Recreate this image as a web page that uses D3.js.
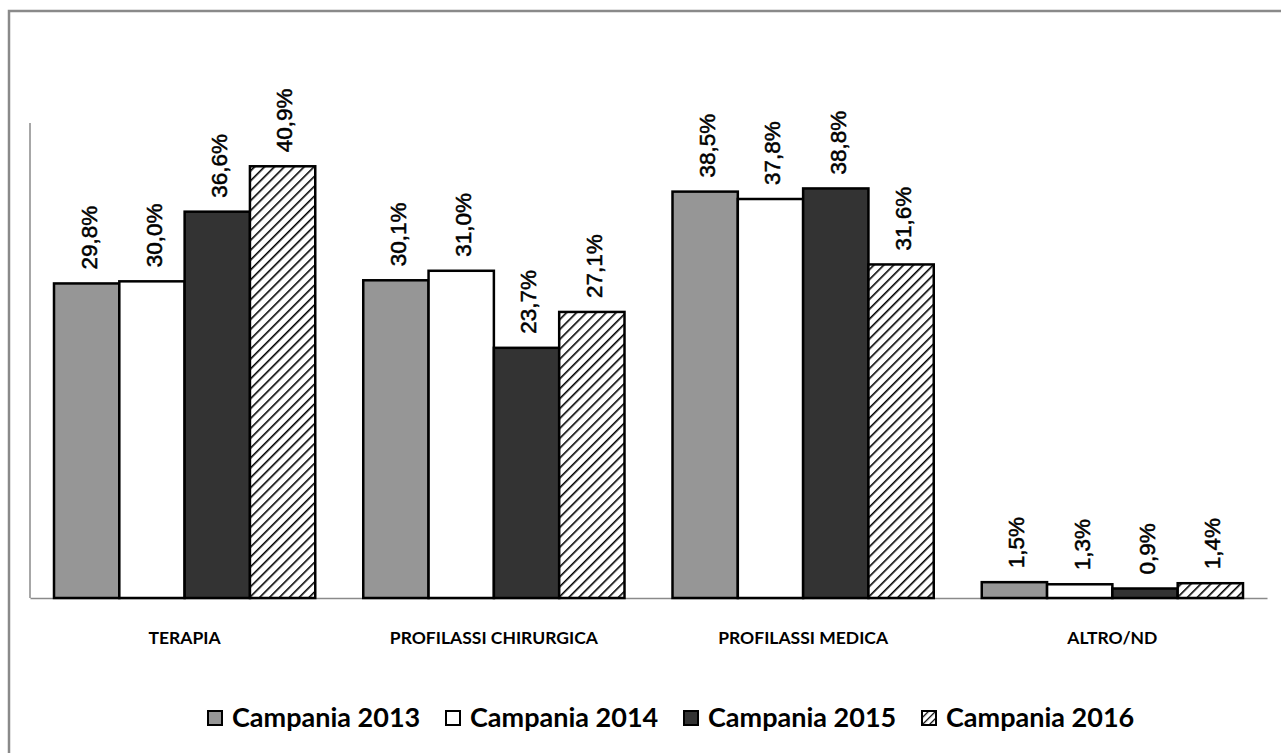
<!DOCTYPE html>
<html>
<head>
<meta charset="utf-8">
<script src="https://cdn.jsdelivr.net/npm/d3@7"></script>
<style>
  body { margin: 0; background: #fff; }
  svg { display: block; }
</style>
</head>
<body>
<script>
var categories = ["TERAPIA", "PROFILASSI CHIRURGICA", "PROFILASSI MEDICA", "ALTRO/ND"];
var series = ["Campania 2013", "Campania 2014", "Campania 2015", "Campania 2016"];
var v2013 = [29.8, 30.1, 38.5, 1.5];
var v2014 = [30.0, 31.0, 37.8, 1.3];
var v2015 = [36.6, 23.7, 38.8, 0.9];
var v2016 = [40.9, 27.1, 31.6, 1.4];
var values = [v2013, v2014, v2015, v2016];

var W = 1281, H = 753;
var margin = { top: 123, left: 30, right: 14, bottom: 155 };
var width = W - margin.left - margin.right,
    height = H - margin.top - margin.bottom;

var fills = ["#969696", "#ffffff", "#333333", "url(#hatch)"];

var svg = d3.select("body").append("svg")
    .attr("width", W)
    .attr("height", H);

// hatch pattern for 2016
var defs = svg.append("defs");
var pat = defs.append("pattern")
    .attr("id", "hatch")
    .attr("patternUnits", "userSpaceOnUse")
    .attr("width", 7)
    .attr("height", 7)
    .attr("patternTransform", "rotate(45)");
pat.append("rect").attr("width", 7).attr("height", 7).attr("fill", "#fff");
pat.append("line")
    .attr("x1", 0).attr("y1", 0).attr("x2", 0).attr("y2", 7)
    .attr("stroke", "#000").attr("stroke-width", 3.2);

var pat2 = defs.append("pattern")
    .attr("id", "hatchSmall")
    .attr("patternUnits", "userSpaceOnUse")
    .attr("width", 5)
    .attr("height", 5)
    .attr("patternTransform", "rotate(45)");
pat2.append("rect").attr("width", 5).attr("height", 5).attr("fill", "#fff");
pat2.append("line")
    .attr("x1", 0).attr("y1", 0).attr("x2", 0).attr("y2", 5)
    .attr("stroke", "#000").attr("stroke-width", 2.5);

// outer frame
svg.append("rect")
    .attr("x", 9).attr("y", 11)
    .attr("width", 1400).attr("height", 900)
    .attr("fill", "none")
    .attr("stroke", "#8a8a8a")
    .attr("stroke-width", 2.5);

var g = svg.append("g")
    .attr("transform", "translate(" + margin.left + "," + margin.top + ")");

var x0 = d3.scaleBand()
    .domain(categories)
    .range([0, width])
    .padding(0);

var x1 = d3.scaleBand()
    .domain(series)
    .range([24, x0.bandwidth() - 24])
    .padding(0);

var y = d3.scaleLinear()
    .domain([0, 45])
    .range([height, 0]);

// y axis line, no ticks
g.append("line")
    .attr("x1", 0).attr("x2", 0)
    .attr("y1", 0).attr("y2", height)
    .attr("stroke", "#8a8a8a").attr("stroke-width", 1.5);

var xAxis = d3.axisBottom(x0).tickSize(0).tickPadding(34);
var ax = g.append("g")
    .attr("transform", "translate(0," + height + ")")
    .call(xAxis);
ax.select(".domain").attr("stroke", "#8a8a8a").attr("stroke-width", 1.5);
ax.selectAll(".tick text")
    .attr("font-family", "Lato, 'Open Sans', sans-serif")
    .attr("font-weight", "bold")
    .attr("font-size", 17.5)
    .attr("fill", "#000");

var fmt = function(v) { return d3.format(".1f")(v).replace(".", ",") + "%"; };

var groups = g.selectAll(".grp")
    .data(categories)
    .enter().append("g")
    .attr("class", "grp")
    .attr("transform", function(d) { return "translate(" + x0(d) + ",0)"; });

groups.each(function(cat, ci) {
    var gg = d3.select(this);
    var rows = series.map(function(s, si) { return { s: s, si: si, v: values[si][ci] }; });

    gg.selectAll("rect")
        .data(rows)
        .enter().append("rect")
        .attr("x", function(d) { return x1(d.s); })
        .attr("y", function(d) { return y(d.v); })
        .attr("width", x1.bandwidth())
        .attr("height", function(d) { return height - y(d.v); })
        .attr("fill", function(d) { return fills[d.si]; })
        .attr("stroke", "#000")
        .attr("stroke-width", 2.5);

    gg.selectAll("text")
        .data(rows)
        .enter().append("text")
        .attr("transform", function(d) {
            return "translate(" + (x1(d.s) + x1.bandwidth() / 2 + 2) + "," + (y(d.v) - 14) + ") rotate(-90)";
        })
        .attr("dy", "0.35em")
        .attr("text-anchor", "start")
        .attr("font-family", "'Liberation Sans', Arial, sans-serif")
        .attr("font-size", 22.5)
        .attr("fill", "#000")
        .attr("stroke", "#000")
        .attr("stroke-width", 0.5)
        .text(function(d) { return fmt(d.v); });
});

// legend
var legend = svg.append("g")
    .attr("transform", "translate(207,718)");

var items = legend.selectAll(".item")
    .data(series)
    .enter().append("g")
    .attr("class", "item")
    .attr("transform", function(d, i) { return "translate(" + (i * 238) + ",0)"; });

items.append("rect")
    .attr("x", 1).attr("y", -7)
    .attr("width", 14).attr("height", 14)
    .attr("fill", function(d, i) { return i == 3 ? "url(#hatchSmall)" : fills[i]; })
    .attr("stroke", "#000")
    .attr("stroke-width", 2);

items.append("text")
    .attr("x", 25)
    .attr("dy", "0.35em")
    .attr("font-family", "Lato, 'Open Sans', sans-serif")
    .attr("font-weight", "bold")
    .attr("font-size", 27)
    .attr("fill", "#000")
    .text(function(d) { return d; });
</script>
</body>
</html>
